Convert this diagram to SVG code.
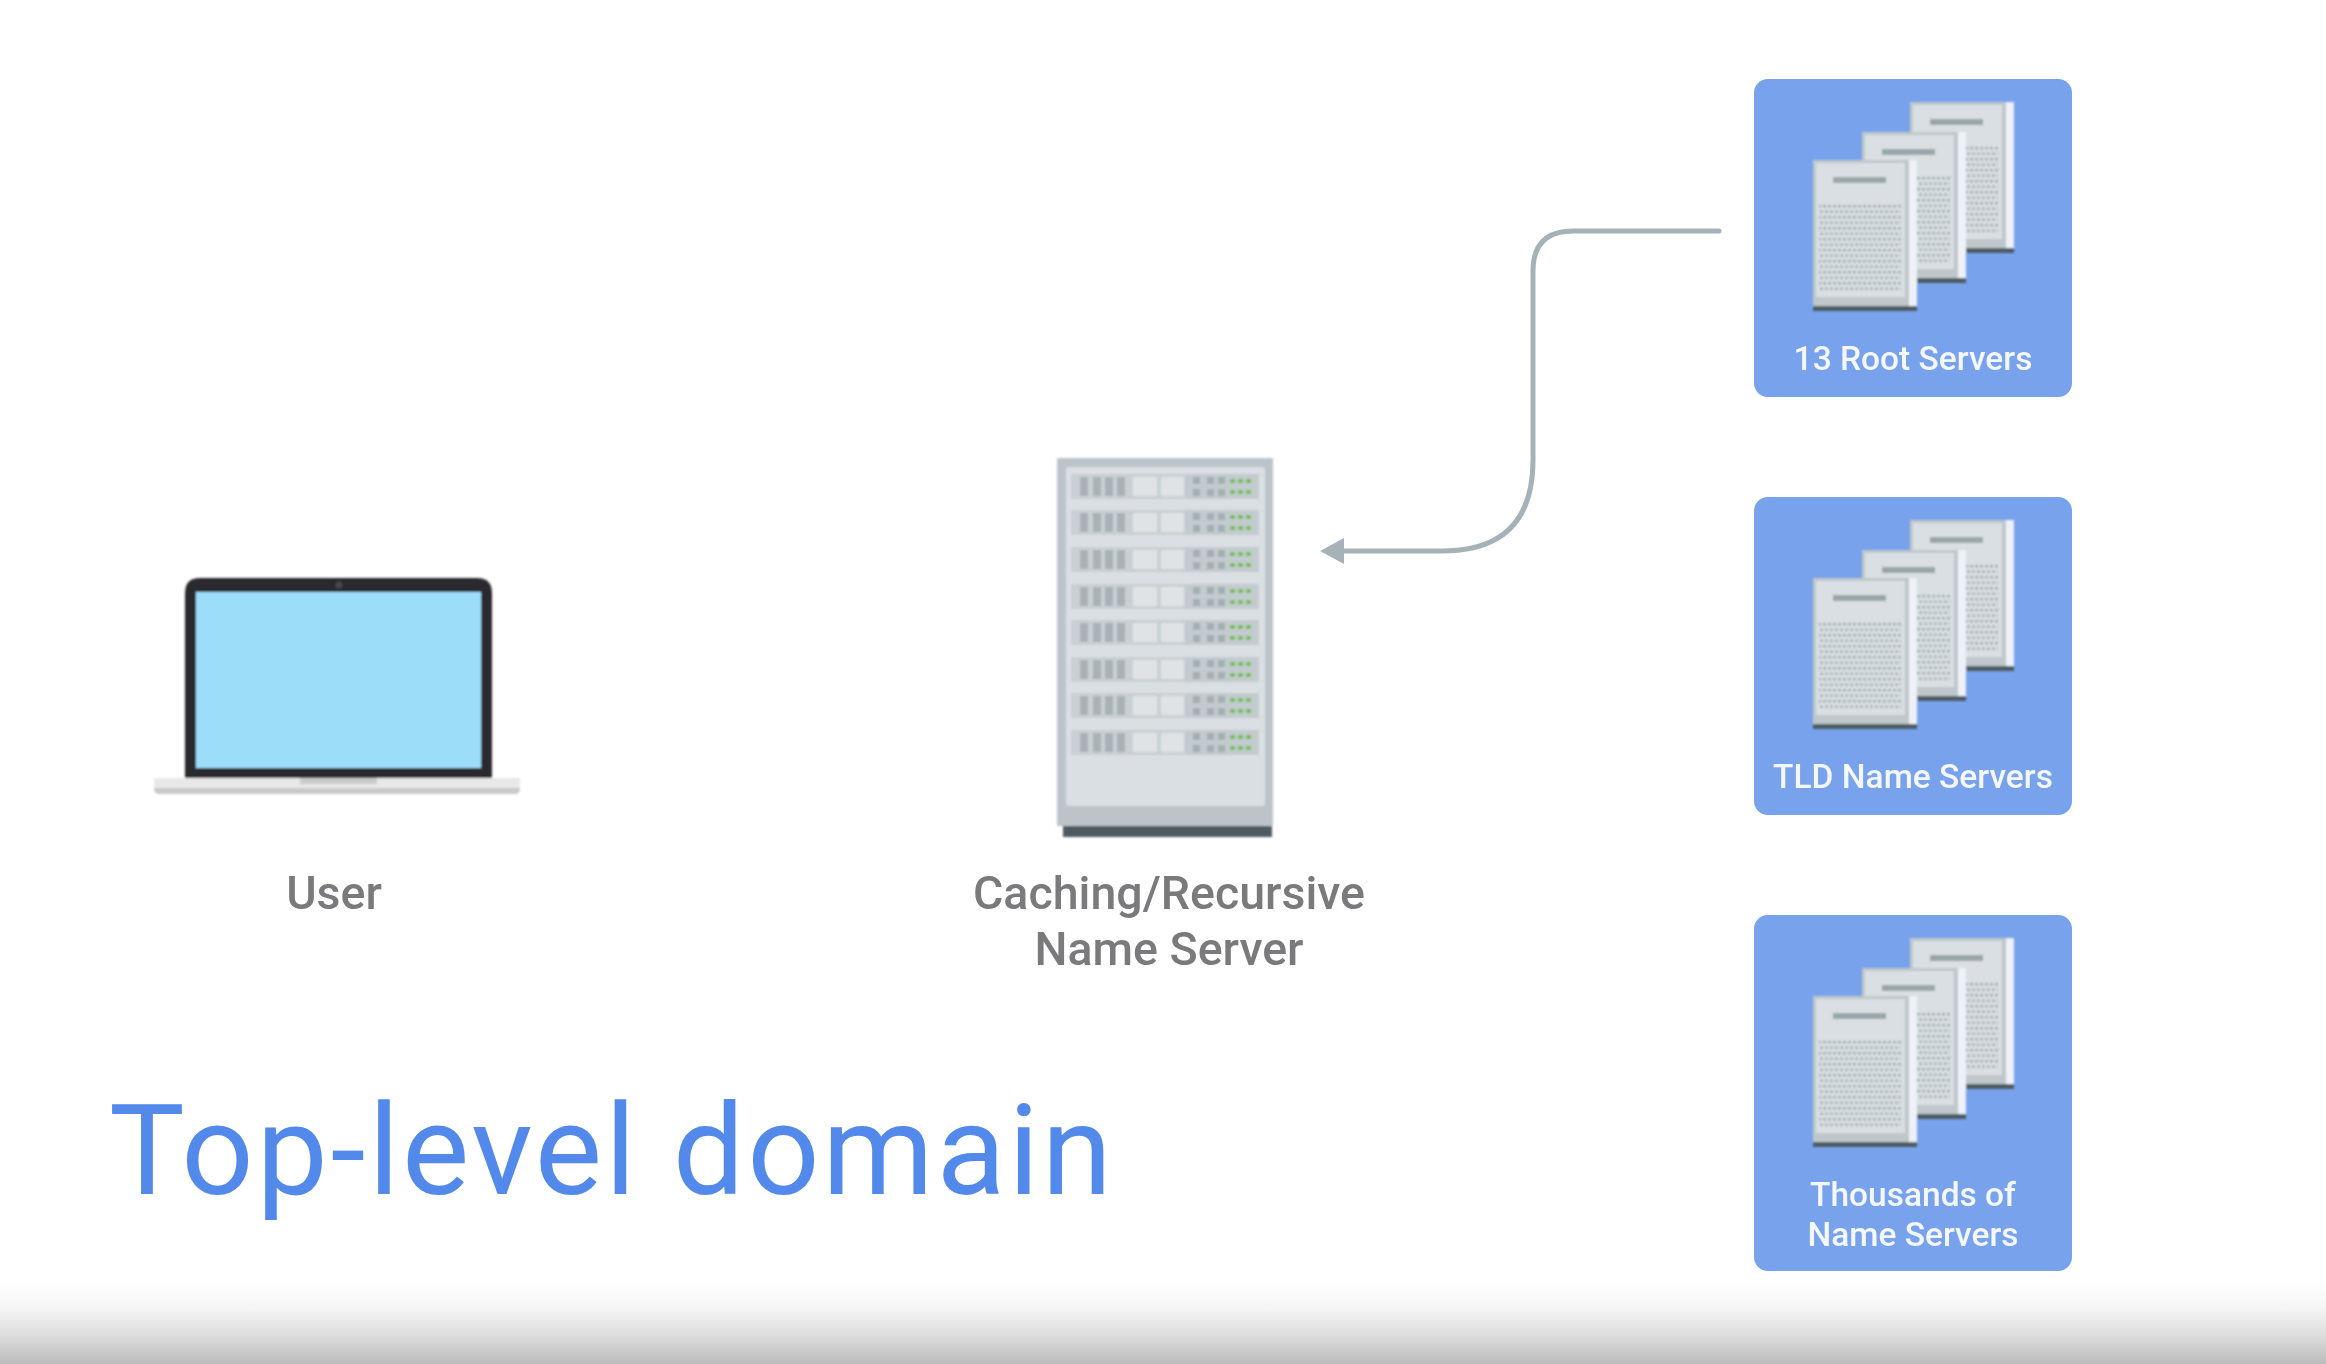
<svg xmlns="http://www.w3.org/2000/svg" width="2326" height="1364" viewBox="0 0 2326 1364">
<style>
text{font-family:Roboto,"Liberation Sans",sans-serif;text-anchor:middle}
.lab{font-size:46.5px;font-weight:500;fill:#7a7a7c;filter:url(#softText)}
.card{font-size:33.5px;font-weight:500;fill:#f4f8fe;filter:url(#softText)}
.title{font-size:127px;font-weight:400;fill:#5389ea;text-anchor:start;filter:url(#softText)}
.cardbg{fill:#78a2ec}
</style>
<defs>
<linearGradient id="fade" x1="0" y1="0" x2="0" y2="1"><stop offset="0" stop-color="#fff"/><stop offset="0.3" stop-color="#f6f6f6"/><stop offset="0.64" stop-color="#dedede"/><stop offset="1" stop-color="#bbb"/></linearGradient>
<filter id="soft" x="-5%" y="-5%" width="110%" height="110%"><feGaussianBlur stdDeviation="0.9"/></filter>
<filter id="softText" x="-5%" y="-10%" width="110%" height="120%"><feGaussianBlur stdDeviation="0.7"/></filter>
<pattern id="dots" width="5" height="11" patternUnits="userSpaceOnUse"><rect x="0" y="1" width="3" height="2.4" fill="#9ca7ac"/><rect x="2" y="6.6" width="3" height="2.4" fill="#a4aeb3"/></pattern>
<symbol id="page" overflow="visible">
<rect width="104" height="146" fill="#bfc7ca"/><rect x="3" y="3" width="89" height="134" fill="#d9dfe2"/><rect x="96" width="8" height="146" fill="#eef1f7"/><rect x="20" y="17" width="53" height="6" fill="#9aa5aa"/><rect x="6" y="45" width="82" height="88" fill="url(#dots)"/><rect y="146" width="104" height="5" fill="#4d5b63"/>
</symbol>
<symbol id="stack" overflow="visible">
<g filter="url(#soft)"><use href="#page" x="156" y="24"/><use href="#page" x="108" y="54"/><use href="#page" x="59" y="82"/></g>
</symbol>
<symbol id="row" overflow="visible">
<rect width="188" height="25" fill="#c9d0d4"/>
<g fill="#a7b1b6"><rect x="9" y="3" width="8" height="19"/><rect x="22" y="3" width="8" height="19"/><rect x="34" y="3" width="8" height="19"/><rect x="46" y="3" width="8" height="19"/></g>
<rect x="62" y="3" width="24" height="19" fill="#dfe3e6"/><rect x="90" y="3" width="23" height="19" fill="#dfe3e6"/>
<rect x="114" y="0" width="73" height="25" fill="#c3cbcf"/>
<g fill="#a3aeb3"><rect x="122" y="3" width="7" height="7"/><rect x="136" y="3" width="7" height="7"/><rect x="147" y="3" width="7" height="7"/><rect x="122" y="15" width="7" height="7"/><rect x="136" y="15" width="7" height="7"/><rect x="147" y="15" width="7" height="7"/></g>
<g fill="#72c04e"><rect x="159" y="5" width="5" height="4"/><rect x="167" y="5" width="5" height="4"/><rect x="175" y="5" width="5" height="4"/><rect x="159" y="16" width="5" height="4"/><rect x="167" y="16" width="5" height="4"/><rect x="175" y="16" width="5" height="4"/></g>
</symbol>
</defs>
<rect width="2326" height="1364" fill="#fff"/>
<rect y="1283" width="2326" height="81" fill="url(#fade)"/>
<g id="connectors" filter="url(#softText)">
<path d="M1719 231H1573Q1533 231 1533 271V460Q1533 551 1442 551H1340" fill="none" stroke="#a5b2b8" stroke-width="5" stroke-linecap="round"/>
<path d="M1320 551L1344 538V564Z" fill="#a5b2b8"/>
</g>
<g id="user">
<g filter="url(#soft)">
<path d="M185 778V593Q185 578 200 578H477Q492 578 492 593V778Z" fill="#2b2b2e"/>
<rect x="196" y="592" width="285" height="176" fill="#9cdef9"/>
<circle cx="339" cy="585" r="3.5" fill="#47474b"/>
<path d="M154 778H520V788Q520 794 514 794H160Q154 794 154 788Z" fill="#e8e8e8"/>
<path d="M154 788H520Q520 794 514 794H160Q154 794 154 788Z" fill="#c9c9c9"/>
<rect x="300" y="778" width="77" height="6" fill="#cbcbcb"/>
</g>
<text class="lab" x="334" y="909">User</text>
</g>
<g id="resolver">
<g filter="url(#soft)">
<rect x="1057" y="458" width="216" height="368" fill="#bcc4c9"/>
<rect x="1066" y="467" width="199" height="339" rx="2" fill="#d9dfe3"/>
<rect x="1063" y="826" width="209" height="11" fill="#4d5a61"/>
<use href="#row" x="1071" y="474"/><use href="#row" x="1071" y="510"/><use href="#row" x="1071" y="547"/><use href="#row" x="1071" y="584"/><use href="#row" x="1071" y="620"/><use href="#row" x="1071" y="657"/><use href="#row" x="1071" y="693"/><use href="#row" x="1071" y="730"/>
</g>
<text class="lab" x="1169" y="909">Caching/Recursive</text>
<text class="lab" x="1169" y="965">Name Server</text>
</g>
<g id="root">
<rect class="cardbg" x="1754" y="79" width="318" height="318" rx="14"/>
<use href="#stack" x="1754" y="78"/>
<text class="card" x="1913" y="370">13 Root Servers</text>
</g>
<g id="tld">
<rect class="cardbg" x="1754" y="497" width="318" height="318" rx="14"/>
<use href="#stack" x="1754" y="496"/>
<text class="card" x="1913" y="788">TLD Name Servers</text>
</g>
<g id="auth">
<rect class="cardbg" x="1754" y="915" width="318" height="356" rx="14"/>
<use href="#stack" x="1754" y="914"/>
<text class="card" x="1913" y="1206">Thousands of</text>
<text class="card" x="1913" y="1246">Name Servers</text>
</g>
<text id="title" class="title" x="109" y="1194" textLength="1003" lengthAdjust="spacing">Top-level domain</text>
</svg>
